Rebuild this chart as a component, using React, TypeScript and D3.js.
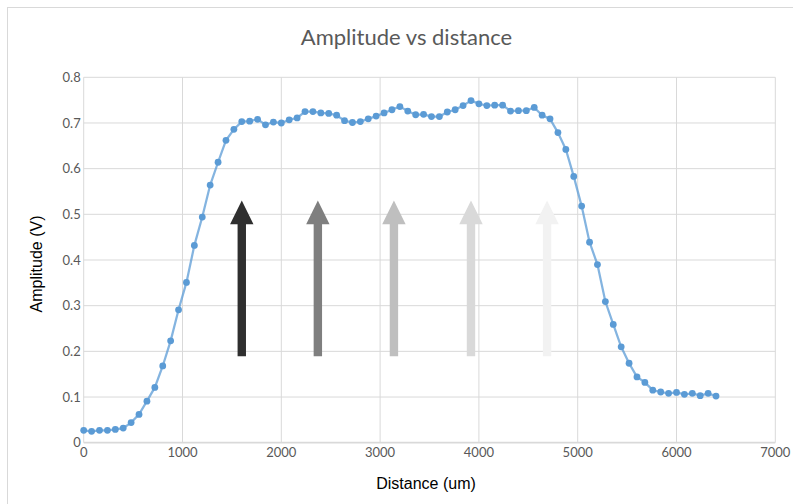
import React from "react";
import * as d3 from "d3";

const distances = [
  0, 80, 160, 240, 320, 400, 480, 560, 640, 720, 800, 880, 960, 1040, 1120, 1200,
  1280, 1360, 1440, 1520, 1600, 1680, 1760, 1840, 1920, 2000, 2080, 2160, 2240, 2320,
  2400, 2480, 2560, 2640, 2720, 2800, 2880, 2960, 3040, 3120, 3200, 3280, 3360, 3440,
  3520, 3600, 3680, 3760, 3840, 3920, 4000, 4080, 4160, 4240, 4320, 4400, 4480, 4560,
  4640, 4720, 4800, 4880, 4960, 5040, 5120, 5200, 5280, 5360, 5440, 5520, 5600, 5680,
  5760, 5840, 5920, 6000, 6080, 6160, 6240, 6320, 6400,
];

const amplitudes = [
  0.027, 0.025, 0.027, 0.027, 0.029, 0.032, 0.044, 0.062, 0.091, 0.121, 0.168, 0.223,
  0.291, 0.351, 0.432, 0.494, 0.564, 0.614, 0.662, 0.686, 0.703, 0.704, 0.708, 0.696,
  0.702, 0.7, 0.707, 0.711, 0.725, 0.725, 0.722, 0.721, 0.717, 0.705, 0.701, 0.703,
  0.709, 0.715, 0.722, 0.729, 0.736, 0.726, 0.718, 0.719, 0.714, 0.714, 0.724, 0.729,
  0.738, 0.749, 0.742, 0.738, 0.739, 0.739, 0.726, 0.727, 0.727, 0.734, 0.717, 0.709,
  0.679, 0.642, 0.583, 0.518, 0.439, 0.39, 0.309, 0.259, 0.21, 0.174, 0.144, 0.132,
  0.115, 0.111, 0.108, 0.11, 0.106, 0.108, 0.103, 0.108, 0.102,
];

const xTicks = [0, 1000, 2000, 3000, 4000, 5000, 6000, 7000];
const yTicks = [0, 0.1, 0.2, 0.3, 0.4, 0.5, 0.6, 0.7, 0.8];

const arrowX = [1600, 2370, 3140, 3920, 4690];
const arrowColors = ["#2f2f2f", "#7f7f7f", "#bfbfbf", "#d9d9d9", "#f2f2f2"];
const arrowTip = 0.53;
const arrowHeadBase = 0.478;
const arrowBottom = 0.189;

const title = "Amplitude vs distance";
const xTitle = "Distance (um)";
const yTitle = "Amplitude (V)";

export default function App() {
  const W = 793;
  const H = 504;
  const x = d3.scaleLinear().domain([0, 7000]).range([83.7, 775.3]);
  const y = d3.scaleLinear().domain([0, 0.8]).range([442.7, 77.3]);

  const pts: [number, number][] = distances.map((d, i) => [d, amplitudes[i]]);
  const line = d3
    .line<[number, number]>()
    .x((d) => x(d[0]))
    .y((d) => y(d[1]));

  const tickFont = "Lato, 'Open Sans', sans-serif";
  const headHalf = 11.7;
  const shaftHalf = 4.2;

  return (
    <div style={{ position: "fixed", left: 0, top: 0 }}>
      <svg width={W} height={H} style={{ display: "block", background: "#fff" }}>
        <rect x={7.5} y={7.5} width={W + 20} height={H + 20} fill="#fff" stroke="#d9d9d9" strokeWidth={1} />
        <text
          x={406.5}
          y={45}
          textAnchor="middle"
          fontFamily={tickFont}
          fontSize={22}
          fill="#595959"
        >
          {title}
        </text>

        {/* gridlines */}
        {yTicks.map((t) => (
          <line
            key={"gy" + t}
            x1={x(0)}
            x2={x(7000)}
            y1={y(t)}
            y2={y(t)}
            stroke="#d9d9d9"
            strokeWidth={t === 0 ? 1.75 : 1}
          />
        ))}
        {xTicks.map((t) => (
          <line
            key={"gx" + t}
            x1={x(t)}
            x2={x(t)}
            y1={y(0)}
            y2={y(0.8)}
            stroke="#d9d9d9"
            strokeWidth={1}
          />
        ))}

        {/* tick labels */}
        {yTicks.map((t) => (
          <text
            key={"ly" + t}
            x={x(0) - 3}
            y={y(t)}
            dy="0.35em"
            textAnchor="end"
            fontFamily={tickFont}
            fontSize={13}
            fill="#595959"
          >
            {t === 0 ? "0" : d3.format(".1f")(t)}
          </text>
        ))}
        {xTicks.map((t) => (
          <text
            key={"lx" + t}
            x={x(t)}
            y={456.5}
            textAnchor="middle"
            fontFamily={tickFont}
            fontSize={13}
            fill="#595959"
          >
            {String(t)}
          </text>
        ))}

        {/* axis titles */}
        <text
          x={426}
          y={488.5}
          textAnchor="middle"
          fontFamily="'Liberation Sans', Arial, sans-serif"
          fontSize={16}
          fill="#000"
        >
          {xTitle}
        </text>
        <text
          transform={`translate(41.5, 264) rotate(-90)`}
          textAnchor="middle"
          fontFamily="'Liberation Sans', Arial, sans-serif"
          fontSize={16}
          fill="#000"
        >
          {yTitle}
        </text>

        {/* arrows */}
        {arrowX.map((a, i) => {
          const cx = x(a);
          const p = d3.path();
          p.moveTo(cx, y(arrowTip));
          p.lineTo(cx + headHalf, y(arrowHeadBase));
          p.lineTo(cx + shaftHalf, y(arrowHeadBase));
          p.lineTo(cx + shaftHalf, y(arrowBottom));
          p.lineTo(cx - shaftHalf, y(arrowBottom));
          p.lineTo(cx - shaftHalf, y(arrowHeadBase));
          p.lineTo(cx - headHalf, y(arrowHeadBase));
          p.closePath();
          return <path key={"ar" + i} d={p.toString()} fill={arrowColors[i]} />;
        })}

        {/* series */}
        <path d={line(pts) || ""} fill="none" stroke="#5b9bd5" strokeOpacity={0.75} strokeWidth={2.25} />
        {pts.map((d, i) => (
          <circle key={"pt" + i} cx={x(d[0])} cy={y(d[1])} r={3.4} fill="#5b9bd5" />
        ))}
      </svg>
    </div>
  );
}
